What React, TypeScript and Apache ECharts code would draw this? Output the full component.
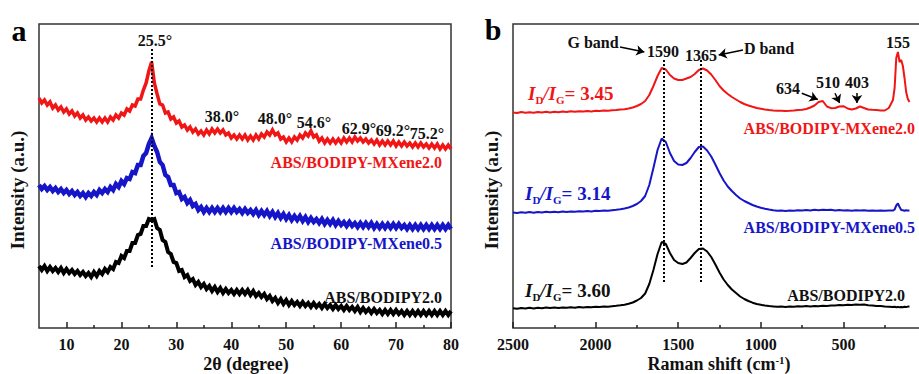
import React, { useEffect, useRef } from "react";
import * as echarts from "echarts";

// ---------------- Panel a: XRD ----------------
const twoTheta = [
  5, 5.5, 6, 6.5, 7, 7.5, 8, 8.5, 9, 9.5,
  10, 10.5, 11, 11.5, 12, 12.5, 13, 13.5, 14, 14.5,
  15, 15.5, 16, 16.5, 17, 17.5, 18, 18.5, 19, 19.5,
  20, 20.5, 21, 21.5, 22, 22.5, 23, 23.5, 24, 24.5,
  25, 25.5, 26, 26.5, 27, 27.5, 28, 28.5, 29, 29.5,
  30, 30.5, 31, 31.5, 32, 32.5, 33, 33.5, 34, 34.5,
  35, 35.5, 36, 36.5, 37, 37.5, 38, 38.5, 39, 39.5,
  40, 40.5, 41, 41.5, 42, 42.5, 43, 43.5, 44, 44.5,
  45, 45.5, 46, 46.5, 47, 47.5, 48, 48.5, 49, 49.5,
  50, 50.5, 51, 51.5, 52, 52.5, 53, 53.5, 54, 54.5,
  55, 55.5, 56, 56.5, 57, 57.5, 58, 58.5, 59, 59.5,
  60, 60.5, 61, 61.5, 62, 62.5, 63, 63.5, 64, 64.5,
  65, 65.5, 66, 66.5, 67, 67.5, 68, 68.5, 69, 69.5,
  70, 70.5, 71, 71.5, 72, 72.5, 73, 73.5, 74, 74.5,
  75, 75.5, 76, 76.5, 77, 77.5, 78, 78.5, 79, 79.5,
  80,
];

const xrdMXene20 = [
  230, 225, 228, 223, 226, 220, 223, 218, 221, 216,
  219, 214, 217, 212, 215, 210, 213, 208, 211, 207,
  210, 206, 210, 206, 210, 206, 211, 208, 213, 210,
  215, 213, 219, 217, 223, 222, 229, 229, 238, 245,
  257, 266, 245, 234, 224, 223, 215, 216, 209, 211,
  205, 207, 201, 203, 198, 201, 196, 199, 194, 197,
  193, 198, 194, 199, 195, 199, 195, 198, 193, 195,
  190, 193, 189, 193, 189, 193, 188, 192, 188, 193,
  189, 194, 191, 196, 193, 198, 193, 195, 189, 191,
  186, 190, 186, 191, 188, 193, 190, 195, 192, 197,
  191, 193, 187, 190, 185, 189, 185, 189, 185, 189,
  185, 190, 186, 190, 186, 191, 187, 190, 186, 189,
  185, 188, 184, 188, 183, 187, 183, 187, 183, 187,
  182, 186, 182, 186, 182, 185, 181, 185, 181, 185,
  181, 184, 180, 184, 180, 184, 179, 183, 179, 183,
  179,
];

const xrdMXene05 = [
  143, 139, 142, 138, 141, 137, 140, 136, 139, 135,
  138, 134, 137, 133, 136, 132, 135, 131, 135, 132,
  136, 133, 138, 135, 139, 136, 141, 138, 144, 141,
  147, 144, 150, 149, 156, 155, 163, 163, 172, 175,
  184, 190, 182, 176, 166, 163, 153, 151, 143, 143,
  135, 136, 129, 131, 125, 128, 122, 124, 118, 121,
  116, 120, 116, 120, 116, 120, 116, 120, 116, 120,
  116, 120, 116, 119, 115, 119, 115, 118, 114, 118,
  113, 117, 113, 117, 112, 116, 111, 115, 110, 114,
  109, 113, 108, 112, 108, 112, 107, 111, 106, 110,
  106, 109, 105, 109, 104, 108, 104, 108, 103, 107,
  103, 106, 102, 106, 102, 105, 101, 105, 101, 105,
  101, 105, 100, 104, 100, 104, 100, 104, 100, 104,
  100, 104, 100, 103, 99, 103, 99, 103, 99, 103,
  99, 103, 99, 103, 99, 103, 99, 103, 99, 103,
  99,
];

const xrdBodipy = [
  62, 58, 62, 57, 61, 57, 60, 56, 60, 55,
  59, 55, 58, 54, 57, 53, 56, 52, 55, 51,
  56, 52, 57, 54, 59, 56, 61, 59, 66, 65,
  72, 70, 77, 77, 85, 85, 93, 94, 102, 102,
  109, 108, 109, 100, 98, 88, 86, 76, 74, 66,
  65, 57, 58, 51, 53, 47, 49, 43, 46, 41,
  44, 39, 42, 37, 41, 36, 40, 35, 39, 35,
  38, 34, 38, 34, 38, 34, 38, 33, 37, 32,
  35, 31, 34, 29, 32, 27, 30, 25, 29, 24,
  28, 23, 27, 23, 26, 22, 26, 22, 25, 21,
  25, 21, 24, 20, 24, 20, 23, 19, 23, 19,
  22, 18, 22, 18, 21, 17, 21, 16, 20, 16,
  19, 15, 19, 15, 18, 14, 18, 14, 18, 14,
  18, 14, 17, 13, 17, 13, 17, 13, 17, 13,
  17, 13, 17, 13, 17, 13, 17, 13, 17, 13,
  17,
];

const xrdMajorTicks = [10, 20, 30, 40, 50, 60, 70, 80];
const xrdMinorTicks = [15, 25, 35, 45, 55, 65, 75];
const xrdPeakMark = 25.5;
const xrdPeakLabels = ["25.5°", "38.0°", "48.0°", "54.6°", "62.9°", "69.2°", "75.2°"];

// ---------------- Panel b: Raman ----------------
const ramanShift = [
  2500, 2475, 2450, 2425, 2400, 2375, 2350, 2325, 2300, 2275,
  2250, 2225, 2200, 2175, 2150, 2125, 2100, 2075, 2050, 2025,
  2000, 1975, 1950, 1925, 1900,
  1875, 1850, 1825, 1800, 1775, 1750, 1725, 1700, 1675, 1650,
  1625, 1600, 1575, 1550, 1525, 1500, 1475, 1450, 1425, 1400,
  1375, 1350, 1325, 1300,
  1275, 1250, 1225, 1200, 1175, 1150, 1125, 1100, 1075, 1050,
  1025, 1000, 975, 950, 925, 900, 875, 850, 825, 800,
  775, 750, 725, 700,
  675, 650, 625, 600, 575, 550, 525, 500, 475, 450,
  425, 400, 375, 350, 325, 300, 275, 250, 225, 200,
  190, 180, 170, 160, 150, 140, 130, 120, 110, 100,
];

const ramanMXene20 = [
  215.5, 215, 216, 215.3, 215.8, 215.2, 216, 215.5, 216.2, 215.6,
  216.3, 215.8, 216.5, 216, 216.7, 216.2, 216.8, 216.4, 217, 216.6,
  217.2, 216.9, 217.5, 217.2, 217.8,
  218, 218.5, 218.8, 219.5, 220.5, 222, 224, 227, 233, 242,
  252, 260, 258.5, 253, 249.5, 248, 248, 249.5, 251, 254,
  258, 259.5, 257.5, 253.5,
  248, 242, 237.5, 234, 231, 228.5, 226, 224, 222.5, 221.2,
  220, 219.3, 218.5, 218, 217.6, 217.3, 217.2, 217, 217.2, 217.5,
  218, 218.2, 219, 220.5,
  222.5, 226, 227, 221.5, 219.8, 220, 221.5, 221.8, 219.5, 218.5,
  219.5, 221.5, 220, 218.5, 218.2, 218, 217.5, 217.5, 220, 228,
  240, 270, 276, 266, 268, 262, 250, 236, 229, 226,
];

const ramanMXene05 = [
  115.5, 115, 115.8, 115.2, 115.9, 115.3, 116, 115.5, 116.2, 115.7,
  116.3, 115.8, 116.5, 116, 116.6, 116.2, 116.8, 116.4, 117, 116.6,
  117.2, 116.9, 117.4, 117.2, 117.8,
  118.2, 118.8, 119.5, 120.5, 122, 124, 127, 132, 143, 160,
  178, 189.5, 186, 175, 167, 163.5, 163, 165, 170, 176,
  181, 181.5, 177.5, 171.5,
  163.5, 155, 147.5, 141.5, 137, 133, 129.5, 127, 125, 123,
  121.5, 120.3, 119.3, 118.5, 117.8, 117.3, 117.5, 117, 117.6, 117.2,
  117.8, 117.4, 118, 117.6,
  118.2, 117.8, 118.3, 117.9, 118.2, 117.6, 118, 117.5, 117.8, 117.3,
  117.7, 117.4, 117.8, 117.2, 117.6, 117.3, 117.5, 117.2, 117.6, 117.4,
  118.5, 122.5, 124.5, 121, 118, 117.8, 117.2, 117.8, 117.4, 117.6,
];

const ramanBodipy = [
  19.7, 19.2, 20, 19.5, 20.2, 19.6, 20.3, 19.8, 20.4, 19.9,
  20.5, 20, 20.6, 20.2, 20.8, 20.3, 20.9, 20.5, 21, 20.7,
  21.2, 21, 21.5, 21.3, 21.8,
  22.2, 22.7, 23.3, 24.2, 25.5, 27.5, 30, 34.5, 44, 58,
  74, 86, 84, 75, 68, 65, 64, 65.5, 70, 75,
  79, 79.5, 76.5, 71,
  63.5, 55.5, 48.5, 43, 38.5, 35, 31.5, 29, 27, 25.3,
  24, 23.2, 22.4, 21.9, 21.6, 21.3, 21.5, 21.1, 21.6, 21.3,
  21.7, 21.4, 21.9, 21.6,
  22.1, 21.8, 22.3, 22, 22.6, 22.4, 22.9, 22.8, 23.3, 23.1,
  23.5, 23.2, 23.4, 22.8, 22.6, 22, 21.9, 21.4, 21.3, 20.9,
  21.2, 20.8, 21.1, 20.7, 21, 20.8, 21.2, 20.9, 21.4, 21.6,
];

const ramanMajorTicks = [2500, 2000, 1500, 1000, 500, 0];
const ramanTickLabels = [2500, 2000, 1500, 1000, 500];
const ramanMinorTicks = [2250, 1750, 1250, 750, 250];
const ramanBands = [1590, 1365];
const ramanPeakLabels = ["1590", "1365", "155", "634", "510", "403"];
const ratioLabels = ["3.45", "3.14", "3.60"];
const seriesNames = ["ABS/BODIPY-MXene2.0", "ABS/BODIPY-MXene0.5", "ABS/BODIPY2.0"];

const RED = "#f01616";
const BLUE = "#1616c8";
const BLACK = "#000000";
const FONT = '"Liberation Serif", "Times New Roman", serif';

function zip(xs: number[], ys: number[]) {
  return xs.map((x, i) => [x, ys[i]]);
}

function txt(text: string, x: number, y: number, color: string, size: number, align = "center", extra: any = {}) {
  return {
    type: "text",
    x,
    y,
    silent: true,
    ...extra,
    style: {
      text,
      fill: color,
      fontSize: size,
      fontWeight: "bold",
      fontFamily: FONT,
      textAlign: align,
      textVerticalAlign: "middle",
    },
  };
}

function ratio(value: string, x: number, y: number, color: string) {
  const base = { fontFamily: FONT, fontWeight: "bold", fill: color, color };
  return {
    type: "text",
    x,
    y,
    silent: true,
    style: {
      text: `{i|I}{s|D}{i|/I}{s|G}{n|= ${value}}`,
      textAlign: "left",
      textVerticalAlign: "middle",
      fill: color,
      rich: {
        i: { ...base, fontSize: 19, fontStyle: "italic", lineHeight: 24, verticalAlign: "middle" },
        n: { ...base, fontSize: 19, lineHeight: 24, verticalAlign: "middle" },
        s: { ...base, fontSize: 11, lineHeight: 11, verticalAlign: "bottom" },
      },
    },
  };
}

export default function App() {
  const ref = useRef<HTMLDivElement>(null);

  useEffect(() => {
    if (!ref.current) return;
    const chart = echarts.init(ref.current, null, { renderer: "svg" });

    const tickLabel = {
      fontSize: 16,
      fontWeight: "bold",
      fontFamily: FONT,
      color: "#111",
      margin: 8,
      formatter: (v: number) => String(v),
    };
    const tickLine = { color: "#222", width: 1.5 };

    const arrow = (a: number[], b: number[]) => [{ coord: a }, { coord: b }];

    const option: any = {
      animation: false,
      backgroundColor: "#ffffff",
      grid: [
        { left: 39, top: 24, width: 412, height: 304, show: true, borderColor: "#333", borderWidth: 1.5, backgroundColor: "transparent", outerBoundsMode: "none" },
        { left: 513, top: 24, width: 413, height: 304, show: true, borderColor: "#333", borderWidth: 1.5, backgroundColor: "transparent", outerBoundsMode: "none" },
      ],
      xAxis: [
        {
          gridIndex: 0, type: "value", min: 5, max: 80, position: "bottom",
          axisLine: { show: false }, splitLine: { show: false },
          axisTick: { show: true, inside: true, length: 6, lineStyle: tickLine, customValues: xrdMajorTicks },
          axisLabel: { ...tickLabel, customValues: xrdMajorTicks },
        },
        {
          gridIndex: 0, type: "value", min: 5, max: 80, position: "bottom",
          axisLine: { show: false }, splitLine: { show: false },
          axisTick: { show: true, inside: true, length: 3, lineStyle: tickLine, customValues: xrdMinorTicks },
          axisLabel: { show: false },
        },
        {
          gridIndex: 1, type: "value", min: 0, max: 2500, inverse: true, position: "bottom",
          axisLine: { show: false }, splitLine: { show: false },
          axisTick: { show: true, inside: true, length: 6, lineStyle: tickLine, customValues: ramanMajorTicks },
          axisLabel: { ...tickLabel, customValues: ramanTickLabels },
        },
        {
          gridIndex: 1, type: "value", min: 0, max: 2500, inverse: true, position: "bottom",
          axisLine: { show: false }, splitLine: { show: false },
          axisTick: { show: true, inside: true, length: 3, lineStyle: tickLine, customValues: ramanMinorTicks },
          axisLabel: { show: false },
        },
      ],
      yAxis: [
        { gridIndex: 0, type: "value", min: 0, max: 304, show: false },
        { gridIndex: 1, type: "value", min: 0, max: 304, show: false },
      ],
      series: [
        {
          type: "line", name: seriesNames[0], xAxisIndex: 0, yAxisIndex: 0,
          data: zip(twoTheta, xrdMXene20), showSymbol: false, silent: true,
          lineStyle: { color: RED, width: 3.5, join: "miter" }, itemStyle: { color: RED },
        },
        {
          type: "line", name: seriesNames[1], xAxisIndex: 0, yAxisIndex: 0,
          data: zip(twoTheta, xrdMXene05), showSymbol: false, silent: true,
          lineStyle: { color: BLUE, width: 4.5, join: "miter" }, itemStyle: { color: BLUE },
        },
        {
          type: "line", name: seriesNames[2], xAxisIndex: 0, yAxisIndex: 0,
          data: zip(twoTheta, xrdBodipy), showSymbol: false, silent: true,
          lineStyle: { color: BLACK, width: 4, join: "miter" }, itemStyle: { color: BLACK },
          markLine: {
            silent: true, symbol: ["none", "none"], label: { show: false },
            lineStyle: { color: "#000", type: "dotted", width: 2 },
            data: [[{ coord: [xrdPeakMark, 61] }, { coord: [xrdPeakMark, 280] }]],
          },
        },
        {
          type: "line", name: seriesNames[0] + " Raman", xAxisIndex: 2, yAxisIndex: 1,
          data: zip(ramanShift, ramanMXene20), showSymbol: false, silent: true,
          lineStyle: { color: RED, width: 2 }, itemStyle: { color: RED },
          markLine: {
            silent: true, symbol: ["none", "arrow"], symbolSize: 8, label: { show: false },
            lineStyle: { color: "#000", type: "solid", width: 1.5 },
            data: [
              arrow([1852, 281], [1705, 276]),
              arrow([1108, 278], [1255, 273]),
              arrow([752, 234.7], [655, 228.5]),
              arrow([551, 234.7], [523, 225]),
              arrow([418, 235], [418, 225]),
            ],
          },
        },
        {
          type: "line", name: seriesNames[1] + " Raman", xAxisIndex: 2, yAxisIndex: 1,
          data: zip(ramanShift, ramanMXene05), showSymbol: false, silent: true,
          lineStyle: { color: BLUE, width: 2 }, itemStyle: { color: BLUE },
        },
        {
          type: "line", name: seriesNames[2] + " Raman", xAxisIndex: 2, yAxisIndex: 1,
          data: zip(ramanShift, ramanBodipy), showSymbol: false, silent: true,
          lineStyle: { color: BLACK, width: 2 }, itemStyle: { color: BLACK },
          markLine: {
            silent: true, symbol: ["none", "none"], label: { show: false },
            lineStyle: { color: "#000", type: "dotted", width: 2 },
            data: [
              [{ coord: [ramanBands[0], 46] }, { coord: [ramanBands[0], 270] }],
              [{ coord: [ramanBands[1], 46] }, { coord: [ramanBands[1], 268] }],
            ],
          },
        },
      ],
      graphic: [
        // panel letters
        txt("a", 19, 30, "#000", 30),
        txt("b", 493, 29, "#000", 30),
        // axis titles
        txt("Intensity (a.u.)", 17.5, 190, "#111", 19, "center", { rotation: Math.PI / 2 }),
        txt("Intensity (a.u.)", 491.5, 190, "#111", 19, "center", { rotation: Math.PI / 2 }),
        txt("2θ (degree)", 246, 364, "#111", 18),
        {
          type: "text", x: 719, y: 364, silent: true,
          style: {
            text: "{n|Raman shift (cm}{p|-1}{n|)}",
            textAlign: "center", textVerticalAlign: "middle", fill: "#111",
            rich: {
              n: { fontSize: 18, fontWeight: "bold", fontFamily: FONT, fill: "#111", color: "#111", lineHeight: 20, verticalAlign: "middle" },
              p: { fontSize: 11, fontWeight: "bold", fontFamily: FONT, fill: "#111", color: "#111", lineHeight: 11, verticalAlign: "top" },
            },
          },
        },
        // panel a peak labels
        txt(xrdPeakLabels[0], 155, 40, "#111", 16),
        txt(xrdPeakLabels[1], 222, 116, "#111", 16),
        txt(xrdPeakLabels[2], 275, 118, "#111", 16),
        txt(xrdPeakLabels[3], 314, 122, "#111", 16),
        txt(xrdPeakLabels[4], 359, 128, "#111", 16),
        txt(xrdPeakLabels[5], 393, 130, "#111", 16),
        txt(xrdPeakLabels[6], 427, 133, "#111", 16),
        // panel a series labels
        txt(seriesNames[0], 442, 162, RED, 16, "right"),
        txt(seriesNames[1], 442, 243, BLUE, 16, "right"),
        txt(seriesNames[2], 442, 297, "#111", 16, "right"),
        // panel b annotations
        txt("G band", 593, 42, "#111", 16),
        txt("D band", 769, 48, "#111", 16),
        txt(ramanPeakLabels[0], 663, 51, "#111", 16),
        txt(ramanPeakLabels[1], 701, 55, "#111", 16),
        txt(ramanPeakLabels[2], 898, 42, "#111", 16),
        txt(ramanPeakLabels[3], 788, 88, "#111", 16),
        txt(ramanPeakLabels[4], 828, 82, "#111", 16),
        txt(ramanPeakLabels[5], 857, 82, "#111", 16),
        txt(seriesNames[0], 915, 128, RED, 16, "right"),
        txt(seriesNames[1], 915, 227, BLUE, 16, "right"),
        txt(seriesNames[2], 905, 295, "#111", 16, "right"),
        ratio(ratioLabels[0], 528, 93, RED),
        ratio(ratioLabels[1], 525, 193, BLUE),
        ratio(ratioLabels[2], 525, 290, "#111"),
      ],
    };

    chart.setOption(option);
    return () => chart.dispose();
  }, []);

  return (
    <div
      ref={ref}
      style={{ position: "fixed", left: 0, top: 0, width: 919, height: 374, background: "#ffffff" }}
    />
  );
}
